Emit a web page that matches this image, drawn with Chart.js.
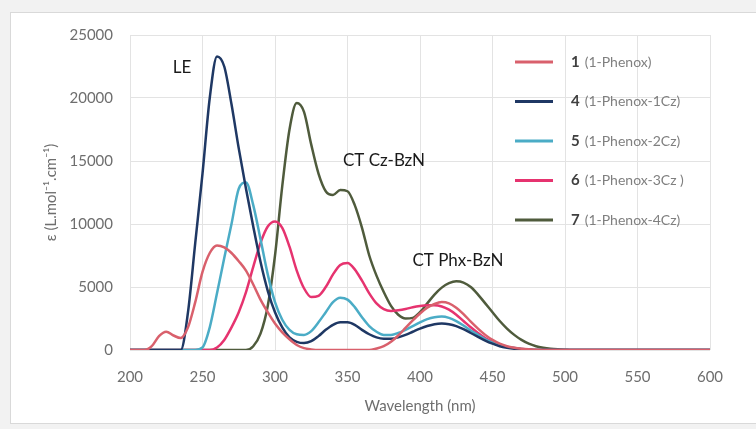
<!DOCTYPE html>
<html lang="en">
<head>
    <meta charset="UTF-8">
    <title>UV-Vis absorption</title>
    <script src="https://cdn.jsdelivr.net/npm/chart.js"></script>
    <style>
        body { margin: 0; background: #ffffff; }
        .absorption { width: 756px; height: 429px; }
    </style>
</head>
<body>
<div class="absorption">
    <canvas id="uvChart" width="756" height="429"></canvas>
</div>
<script>
    // wavelength grid (nm)
    var wavelengths = [200, 205, 210, 215, 220, 225, 230, 235, 240, 245, 250, 255, 260, 265, 270, 275,
        280, 285, 290, 295, 300, 305, 310, 315, 320, 325, 330, 335, 340, 345, 350, 355,
        360, 365, 370, 375, 380, 385, 390, 395, 400, 405, 410, 415, 420, 425, 430, 435,
        440, 445, 450, 455, 460, 465, 470, 475, 480, 485, 490, 495, 500, 505, 510, 550, 600];

    // molar absorptivity, L.mol-1.cm-1
    var phenox = [0, 0, 0, 300, 1100, 1450, 1150, 950, 1800, 3800, 6200, 7700, 8300, 8150, 7700, 7050,
        6300, 5200, 4000, 3000, 2100, 1400, 850, 400, 150, 50, 0, 0, 0, 0, 0, 0,
        0, 0, 120, 300, 650, 1150, 1750, 2350, 2900, 3350, 3650, 3800, 3700, 3350, 2850, 2250,
        1700, 1200, 800, 500, 300, 180, 100, 50, 20, 0, 0, 0, 0, 0, 0, 0, 0];
    var phenox1Cz = [0, 0, 0, 0, 0, 0, 0, 0, 3000, 8500, 14000, 20000, 23300, 22500, 19500, 16000,
        12800, 9800, 7000, 4700, 3000, 1800, 1000, 650, 550, 700, 1100, 1600, 2000, 2200, 2200, 2000,
        1600, 1250, 1000, 900, 900, 1000, 1200, 1450, 1700, 1900, 2050, 2100, 2050, 1900, 1650, 1350,
        1050, 750, 500, 300, 180, 100, 50, 20, 0, 0, 0, 0, 0, 0, 0, 0, 0];
    var phenox2Cz = [0, 0, 0, 0, 0, 0, 0, 0, 0, 0, 200, 1800, 4500, 7300, 10000, 12800,
        13300, 11500, 8800, 6000, 3800, 2400, 1600, 1250, 1200, 1500, 2200, 3000, 3800, 4150, 4000, 3400,
        2600, 1900, 1450, 1200, 1200, 1350, 1600, 1900, 2200, 2450, 2600, 2650, 2550, 2300, 1950, 1550,
        1200, 850, 600, 400, 250, 150, 80, 30, 0, 0, 0, 0, 0, 0, 0, 0, 0];
    var phenox3Cz = [0, 0, 0, 0, 0, 0, 0, 0, 0, 0, 0, 0, 200, 800, 1800, 3000,
        4600, 6600, 8500, 9800, 10200, 9700, 8200, 6300, 4900, 4200, 4300, 5000, 6000, 6750, 6900, 6400,
        5500, 4500, 3700, 3250, 3100, 3150, 3250, 3400, 3500, 3550, 3550, 3450, 3200, 2800, 2300, 1800,
        1350, 950, 650, 400, 250, 150, 80, 30, 0, 0, 0, 0, 0, 0, 0, 0, 0];
    var phenox4Cz = [0, 0, 0, 0, 0, 0, 0, 0, 0, 0, 0, 0, 0, 0, 0, 0,
        0, 300, 1300, 3500, 7500, 13000, 17500, 19600, 18900, 16300, 14000, 12600, 12300, 12700, 12600, 11500,
        9700, 7500, 5900, 4600, 3500, 2800, 2500, 2550, 3000, 3700, 4400, 4950, 5300, 5450, 5350, 5000,
        4400, 3700, 3000, 2300, 1700, 1200, 800, 500, 300, 180, 100, 50, 20, 0, 0, 0, 0];

    var seriesNumbers = ['1', '4', '5', '6', '7'];
    var seriesNames = ['(1-Phenox)', '(1-Phenox-1Cz)', '(1-Phenox-2Cz)', '(1-Phenox-3Cz )', '(1-Phenox-4Cz)'];
    var seriesValues = [phenox, phenox1Cz, phenox2Cz, phenox3Cz, phenox4Cz];
    var seriesColors = ['#d9606c', '#1f3864', '#4bacc6', '#e6336f', '#4f5b3c'];
    var bandLabels = ['LE', 'CT Cz-BzN', 'CT Phx-BzN'];
    var bandLabelAt = [[182, 68], [384, 161], [458, 261]];

    var xTicks = [200, 250, 300, 350, 400, 450, 500, 550, 600];

    var FONT = 'Lato, "Open Sans", sans-serif';

    // frame, band labels and the legend
    var decorations = {
        id: 'decorations',
        beforeDraw: function (chart) {
            var c = chart.ctx;
            c.save();
            c.fillStyle = '#f2f2f2';
            c.fillRect(0, 0, chart.width, chart.height);
            c.fillStyle = '#ffffff';
            c.fillRect(10, 12, 760, 411);
            c.strokeStyle = '#d9d9d9';
            c.lineWidth = 1;
            c.strokeRect(10.5, 12.5, 760, 411);
            c.restore();
        },
        afterDraw: function (chart) {
            var c = chart.ctx;
            c.save();
            c.fillStyle = '#1a1a1a';
            c.font = '17px ' + FONT;
            c.textAlign = 'center';
            c.textBaseline = 'middle';
            bandLabels.forEach(function (t, i) {
                c.fillText(t, bandLabelAt[i][0], bandLabelAt[i][1]);
            });

            c.textAlign = 'left';
            for (var i = 0; i < seriesNames.length; i++) {
                var y = 62 + i * 39.5;
                c.strokeStyle = seriesColors[i];
                c.lineWidth = 3;
                c.beginPath();
                c.moveTo(515, y);
                c.lineTo(553, y);
                c.stroke();
                c.fillStyle = '#404040';
                c.font = 'bold 15px ' + FONT;
                c.fillText(seriesNumbers[i], 571, y);
                var w = c.measureText(seriesNumbers[i]).width;
                c.fillStyle = '#7f7f7f';
                c.font = '14px ' + FONT;
                c.fillText(seriesNames[i], 571 + w + 5, y);
            }
            c.restore();
        }
    };

    var ctx = document.getElementById('uvChart').getContext('2d');
    var chart = new Chart(ctx, {
        type: 'line',
        data: {
            datasets: seriesValues.map(function (vals, i) {
                return {
                    label: seriesNumbers[i] + ' ' + seriesNames[i],
                    data: vals.map(function (v, k) { return { x: wavelengths[k], y: v }; }),
                    borderColor: seriesColors[i],
                    borderWidth: 2.5,
                    pointRadius: 0,
                    cubicInterpolationMode: 'monotone',
                    fill: false
                };
            })
        },
        options: {
            responsive: false,
            animation: false,
            layout: { padding: { left: 42, top: 35, right: 46, bottom: 14 } },
            plugins: {
                legend: { display: false },
                tooltip: { enabled: false }
            },
            scales: {
                x: {
                    type: 'linear',
                    min: 200,
                    max: 600,
                    afterBuildTicks: function (axis) {
                        axis.ticks = xTicks.map(function (v) { return { value: v }; });
                    },
                    afterFit: function (axis) { axis.height = 65; },
                    grid: { color: '#e3e3e3', drawTicks: false },
                    border: { display: false },
                    ticks: { color: '#6e6e6e', padding: 18, font: { family: FONT, size: 15 } },
                    title: {
                        display: true,
                        text: 'Wavelength (nm)',
                        color: '#6e6e6e',
                        font: { family: FONT, size: 15 },
                        padding: { top: 0, bottom: 0 }
                    }
                },
                y: {
                    min: 0,
                    max: 25000,
                    afterFit: function (axis) { axis.width = 88; },
                    grid: { color: '#e3e3e3', drawTicks: false },
                    border: { display: false },
                    ticks: {
                        stepSize: 5000,
                        color: '#6e6e6e',
                        padding: 17,
                        font: { family: FONT, size: 15 },
                        callback: function (v) { return String(v); }
                    },
                    title: {
                        display: true,
                        text: 'ε (L.mol⁻¹.cm⁻¹)',
                        color: '#6e6e6e',
                        font: { family: FONT, size: 15 },
                        padding: { top: 0, bottom: 0 }
                    }
                }
            }
        },
        plugins: [decorations]
    });
</script>
</body>
</html>
